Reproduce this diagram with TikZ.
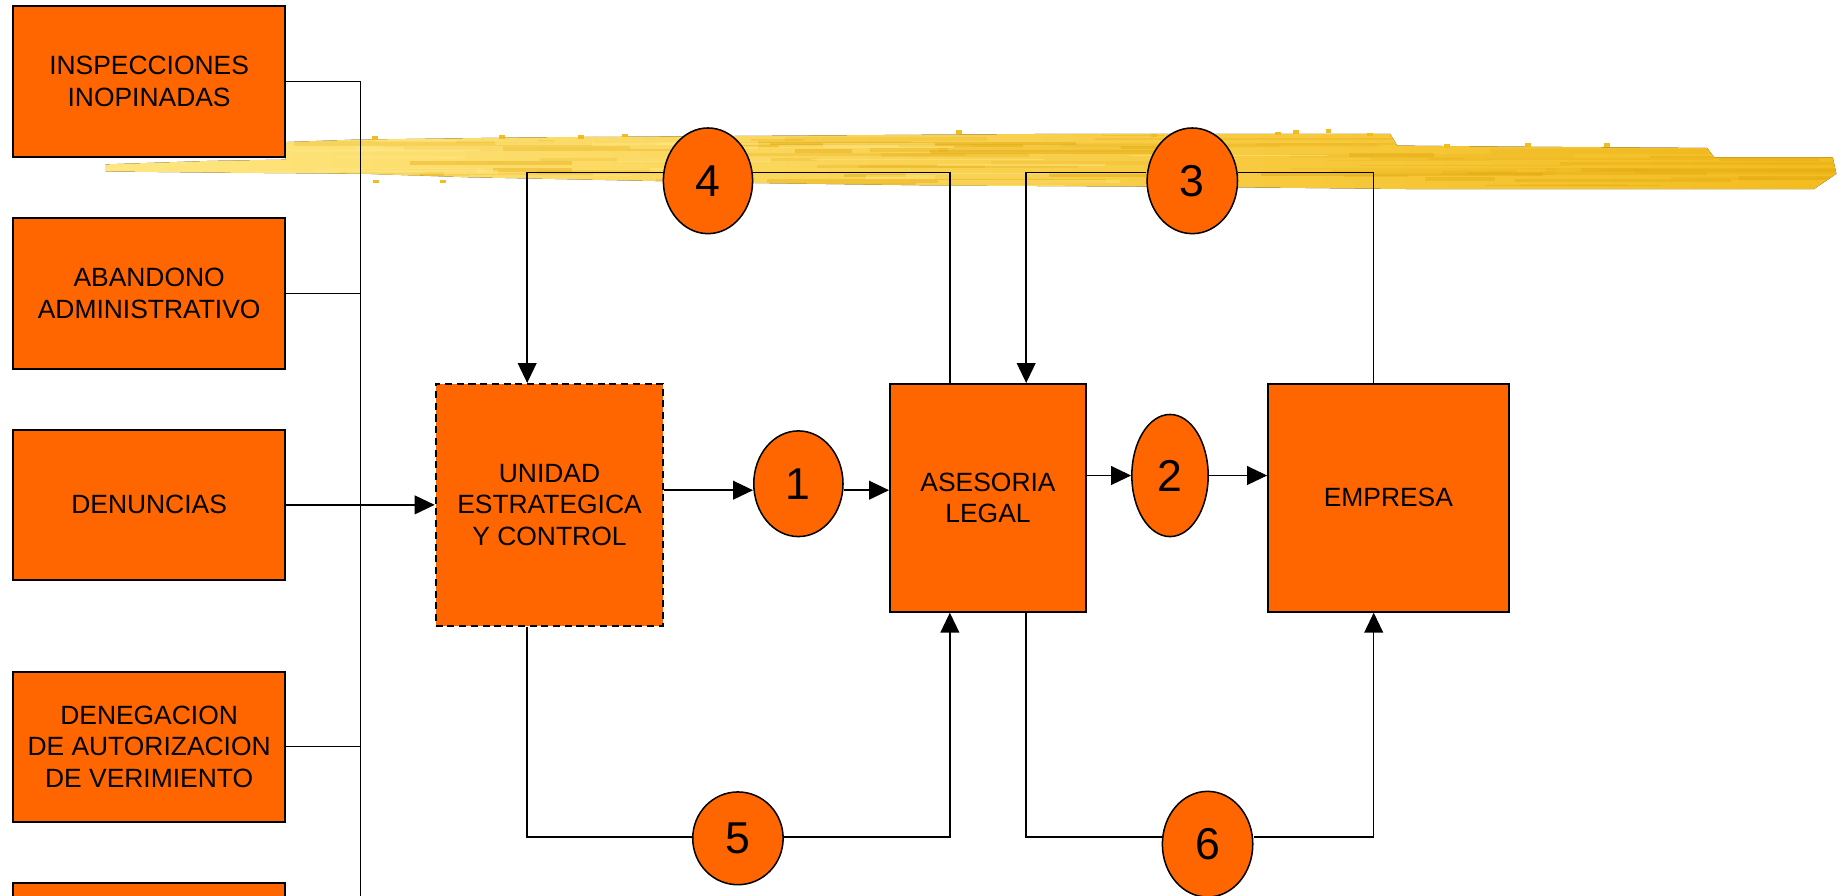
\documentclass[tikz,border=0pt]{standalone}
\usepackage{fontspec}
\setmainfont{Liberation Sans}
\usetikzlibrary{shapes.geometric,arrows.meta}
\definecolor{boxorange}{HTML}{FF6600}
\definecolor{pale}{HTML}{FFE680}
\definecolor{midy}{HTML}{F9D040}
\definecolor{deepy}{HTML}{F3BC1E}
\definecolor{darky}{HTML}{E2AA12}
\tikzset{
  boxnode/.style={rectangle, draw=black, fill=boxorange, line width=1.6pt, inner sep=0pt, align=center,
    font=\fontsize{22.5}{27}\selectfont},
  numnode/.style={ellipse, draw=black, fill=boxorange, line width=1.3pt, inner sep=0pt,
    font=\fontsize{38}{40}\selectfont},
  ln/.style={draw=black, line width=1.2pt},
  arr/.style={-{Triangle[length=17pt,width=16pt]}},
  speck/.style={fill=deepy}
}
\begin{document}
\begin{tikzpicture}[x=1pt,y=-1pt]
\useasboundingbox (0,0) rectangle (1568,763);
\clip (0,0) rectangle (1568,763);
\fill[white] (0,0) rectangle (1568,763);
% yellow brush stroke
\def\strokepath{(90,140) -- (180,137) -- (243,136) -- (243,121) -- (300,119) -- (450,117) -- (600,116)
  -- (900,114) -- (1184,114) -- (1190,124) -- (1300,125) -- (1454,126) -- (1460,134)
  -- (1561,134) -- (1564,148) -- (1545,161) -- (1200,161) -- (1000,159) -- (800,158)
  -- (650,156) -- (550,154) -- (400,151) -- (310,148) -- (180,147) -- (90,146) -- cycle}
\fill[left color=pale, middle color=midy, right color=deepy] \strokepath;
\begin{scope}
\clip \strokepath;
\pgfmathsetseed{7}
\foreach \i in {1,...,70}{
  \pgfmathsetmacro{\sx}{250+rnd*1250}
  \pgfmathsetmacro{\sy}{114+rnd*46}
  \pgfmathsetmacro{\sl}{40+rnd*260}
  \pgfmathsetmacro{\sh}{1+rnd*3}
  \pgfmathsetmacro{\so}{0.15+rnd*0.35}
  \fill[darky, opacity=\so] (\sx,\sy) rectangle ++(\sl,\sh);
}
\foreach \i in {1,...,30}{
  \pgfmathsetmacro{\sx}{150+rnd*900}
  \pgfmathsetmacro{\sy}{114+rnd*46}
  \pgfmathsetmacro{\sl}{40+rnd*200}
  \pgfmathsetmacro{\sh}{1+rnd*3}
  \fill[pale, opacity=0.5] (\sx,\sy) rectangle ++(\sl,\sh);
}
\end{scope}
\foreach \px/\py in {317/116,425/115,492/115,530/114,814/111,1086/112,1101/111,1129/110,1164/113,1299/122,1366/122,318/153,375/153,980/114,1230/123}
  \fill[speck] (\px,\py) rectangle ++(5,3);
% left boxes
\node[boxnode, minimum width=232pt, minimum height=129pt] (insp) at (127,69.5) {INSPECCIONES\\INOPINADAS};
\node[boxnode, minimum width=232pt, minimum height=128pt] (aban) at (127,250) {ABANDONO\\ADMINISTRATIVO};
\node[boxnode, minimum width=232pt, minimum height=128pt] (denu) at (127,430) {DENUNCIAS};
\node[boxnode, minimum width=232pt, minimum height=128pt] (dene) at (127,636) {DENEGACION\\DE AUTORIZACION\\DE VERIMIENTO};
\node[boxnode, minimum width=232pt, minimum height=128pt] (fifth) at (127,816) {};
% main boxes
\node[boxnode, dash pattern=on 6pt off 4pt, minimum width=194pt, minimum height=206pt] (unid) at (468,430) {UNIDAD\\ESTRATEGICA\\Y CONTROL};
\node[boxnode, minimum width=167pt, minimum height=194pt] (ases) at (841.5,424) {ASESORIA\\LEGAL};
\node[boxnode, minimum width=205pt, minimum height=194pt] (empr) at (1182.5,424) {EMPRESA};
% number ellipses
\node[numnode, minimum width=76pt, minimum height=90pt] (e1) at (680,412) {1};
\node[numnode, minimum width=65pt, minimum height=104pt] (e2) at (996.5,405) {2};
\node[numnode, minimum width=77pt, minimum height=90pt] (e3) at (1015.5,154) {3};
\node[numnode, minimum width=76pt, minimum height=90pt] (e4) at (603,154) {4};
\node[numnode, minimum width=77pt, minimum height=79pt] (e5) at (628.5,714) {5};
\node[numnode, minimum width=77pt, minimum height=90pt] (e6) at (1028.5,719) {6};
% bus on the left
\coordinate (busTop) at (307,69.5);
\coordinate (busBot) at (307,780);
\draw[ln] (insp.east) -- (busTop) -- (busBot);
\draw[ln] (aban.east) -- (aban.east -| busTop);
\draw[ln] (dene.east) -- (dene.east -| busTop);
\draw[ln, arr] (denu.east) -- (unid.west |- denu.east);
% main chain
\draw[ln, arr] ([yshift=-5.5pt]unid.east |- e1.west) -- ([yshift=-5.5pt]e1.west);
\draw[ln, arr] ([yshift=-5.5pt]e1.east) -- ([yshift=-5.5pt]ases.west |- e1.east);
\draw[ln, arr] (ases.east |- e2.west) -- (e2.west);
\draw[ln, arr] (e2.east) -- (empr.west |- e2.east);
% loop 4
\coordinate (t4r) at (809,147);
\coordinate (t4l) at (449,147);
\draw[ln] (ases.north -| t4r) -- (t4r) -- ([yshift=7pt]e4.east);
\draw[ln, arr] ([yshift=7pt]e4.west) -- (t4l) -- (unid.north -| t4l);
% loop 3
\coordinate (t3r) at (1170,147);
\coordinate (t3l) at (874,147);
\draw[ln] (empr.north -| t3r) -- (t3r) -- ([yshift=7pt]e3.east);
\draw[ln, arr] ([yshift=7pt]e3.west) -- (t3l) -- (ases.north -| t3l);
% loop 5
\coordinate (b5l) at (449,713);
\coordinate (b5r) at (809,713);
\draw[ln] (unid.south -| b5l) -- (b5l) -- ([yshift=1pt]e5.west);
\draw[ln, arr] ([yshift=1pt]e5.east) -- (b5r) -- (ases.south -| b5r);
% loop 6
\coordinate (b6l) at (874,713);
\coordinate (b6r) at (1170,713);
\draw[ln] (ases.south -| b6l) -- (b6l) -- ([yshift=6pt]e6.west);
\draw[ln, arr] ([yshift=6pt]e6.east) -- (b6r) -- (empr.south -| b6r);
\end{tikzpicture}
\end{document}
